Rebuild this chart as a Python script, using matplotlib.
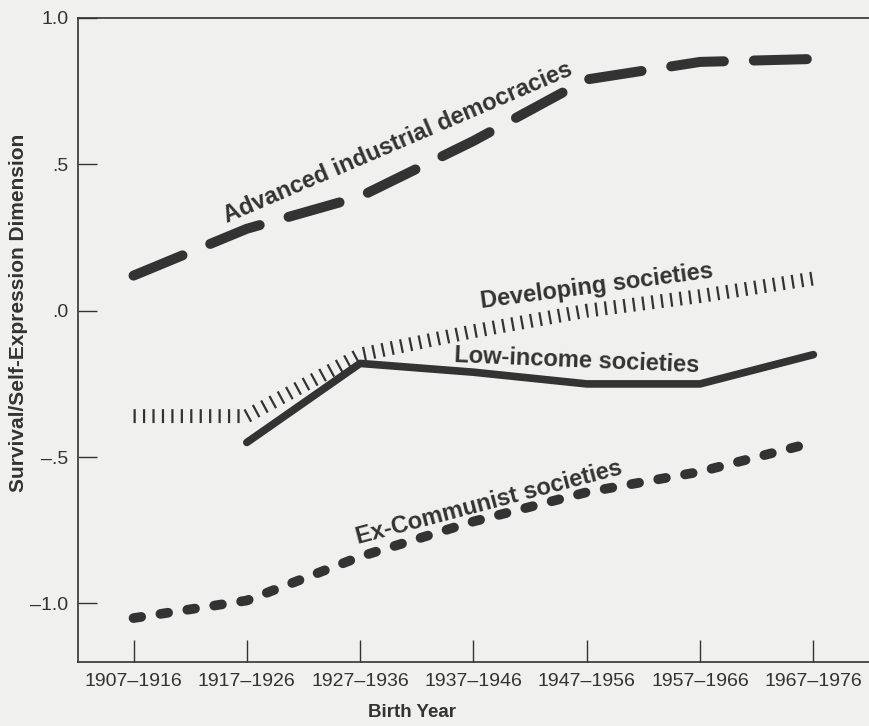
import matplotlib.pyplot as plt

cohorts = ["1907–1916", "1917–1926", "1927–1936", "1937–1946",
           "1947–1956", "1957–1966", "1967–1976"]

advanced = [0.12, 0.28, 0.39, 0.58, 0.79, 0.85, 0.86]
developing = [-0.36, -0.36, -0.15, -0.07, 0.00, 0.05, 0.11]
low_income = [None, -0.45, -0.18, -0.21, -0.25, -0.25, -0.15]
ex_communist = [-1.05, -0.99, -0.84, -0.72, -0.62, -0.55, -0.45]

y_ticks = [1.0, 0.5, 0.0, -0.5, -1.0]
y_tick_labels = ["1.0", ".5", ".0", "–.5", "–1.0"]

plt.rcParams['font.family'] = ['Liberation Sans', 'DejaVu Sans']

bg = '#f0f0ef'
ink = '#333333'

fig = plt.figure(figsize=(8.7, 7.26), dpi=100, facecolor=bg)
ax = fig.add_axes([78 / 870, 64 / 726, 792 / 870, 644 / 726])
ax.set_facecolor(bg)

x = list(range(len(cohorts)))

ax.plot(x, advanced, color=ink, lw=7.2, linestyle=(0, (5.3, 3.0)),
        dash_capstyle='round', solid_capstyle='round')

ax.plot(x, developing, color=ink, lw=10, linestyle=(0, (0.16, 0.52)),
        dash_capstyle='butt')

lx = [xi for xi, v in zip(x, low_income) if v is not None]
ly = [v for v in low_income if v is not None]
ax.plot(lx, ly, color=ink, lw=5.5, solid_capstyle='round', solid_joinstyle='round')

ax.plot(x, ex_communist, color=ink, lw=7, linestyle=(0, (0.8, 2.0)),
        dash_capstyle='round')

# series names sit on the lines, anchored at the baseline midpoint
label_kw = dict(fontsize=17, fontweight='bold', color=ink, ha='center', va='baseline',
                transform=None, rotation_mode='anchor')
ax.text(400, 726 - 149, "Advanced industrial democracies", rotation=23.2, **label_kw)
ax.text(598, 726 - 293, "Developing societies", rotation=7.5, **label_kw)
ax.text(577, 726 - 367, "Low-income societies", rotation=-2.4, **label_kw)
ax.text(491, 726 - 509, "Ex-Communist societies", rotation=14.8, **label_kw)

ax.set_xlim(-0.49, 6.5)
ax.set_ylim(-1.2, 1.0)
ax.set_xticks(x)
ax.set_xticklabels(cohorts)
ax.set_yticks(y_ticks)
ax.set_yticklabels(y_tick_labels)

ax.tick_params(axis='x', direction='in', length=16, width=1, color=ink,
               labelsize=14, labelcolor=ink, pad=8)
ax.tick_params(axis='y', direction='in', length=14, width=1, color=ink,
               labelsize=14, labelcolor=ink, pad=7)

ax.spines['right'].set_visible(False)
for s in ['left', 'bottom', 'top']:
    ax.spines[s].set_color(ink)
    ax.spines[s].set_linewidth(1.2)

ax.set_xlabel("Birth Year", fontsize=13.5, fontweight='bold', color=ink)
ax.xaxis.set_label_coords((412 - 78) / 792, -42 / 644)
ax.set_ylabel("Survival/Self-Expression Dimension", fontsize=15, fontweight='bold',
              color=ink)
ax.yaxis.set_label_coords(-50 / 792, (726 - 313 - 64) / 644)

fig.savefig("out.png", dpi=100, facecolor=bg)
